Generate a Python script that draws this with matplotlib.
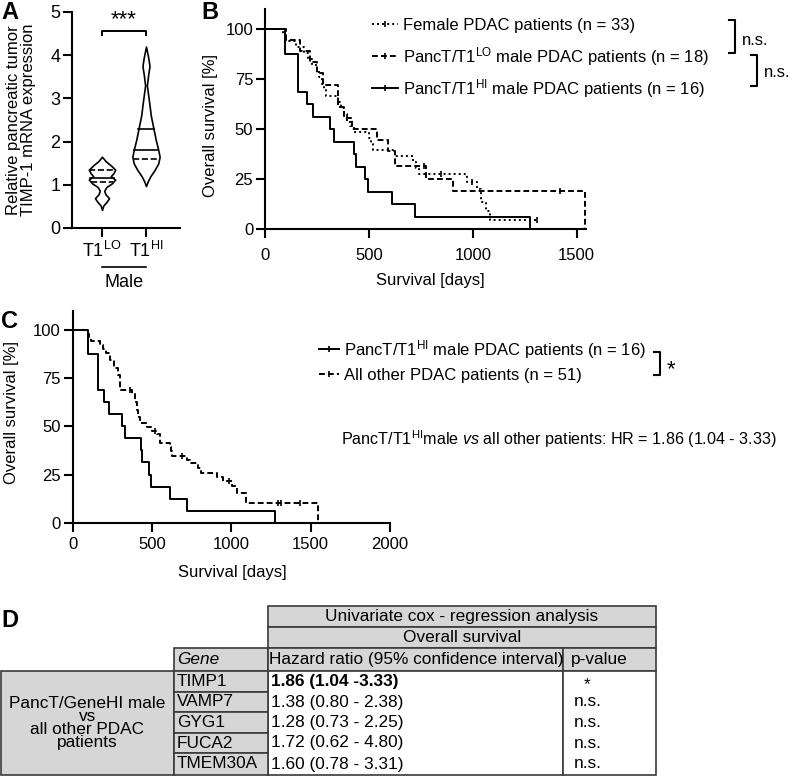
import numpy as np
import matplotlib.pyplot as plt
from matplotlib.patches import Rectangle

plt.rcParams['font.family'] = ['Liberation Sans', 'DejaVu Sans']
plt.rcParams['mathtext.fontset'] = 'custom'
plt.rcParams['mathtext.rm'] = 'Liberation Sans'
plt.rcParams['mathtext.it'] = 'Liberation Sans:italic'
plt.rcParams['mathtext.bf'] = 'Liberation Sans:bold'

# ---- A: violin outlines (expression value, half width)
lo_y = [0.42, 0.52, 0.60, 0.69, 0.78, 0.86, 0.95, 1.03, 1.12, 1.20, 1.27, 1.35, 1.45, 1.55, 1.65]
lo_w = [0.00, 0.03, 0.10, 0.16, 0.08, 0.05, 0.10, 0.22, 0.30, 0.20, 0.26, 0.30, 0.20, 0.08, 0.00]
hi_y = [0.97, 1.08, 1.20, 1.35, 1.50, 1.65, 1.80, 2.05, 2.30, 2.60, 3.00, 3.30, 3.55, 3.75, 3.95, 4.20]
hi_w = [0.00, 0.04, 0.10, 0.20, 0.28, 0.31, 0.28, 0.22, 0.17, 0.11, 0.06, 0.02, 0.05, 0.08, 0.05, 0.00]
lo_lines = [(1.35, '--'), (1.15, '-'), (1.07, '--')]
hi_lines = [(1.60, '--'), (1.80, '-'), (2.29, '-')]
groups = ['T1$^{\\mathrm{LO}}$', 'T1$^{\\mathrm{HI}}$']

# ---- B/C: Kaplan-Meier steps (days, survival %)
hi_t = [0, 96, 157, 200, 231, 312, 332, 428, 437, 481, 496, 611, 721, 1275]
hi_s = [100, 87.5, 68.75, 62.5, 56.25, 50, 43.75, 37.5, 31.25, 25, 18.75, 12.5, 6.25, 0]

lo_t = [0, 101, 168, 216, 252, 280, 351, 380, 417, 537, 592, 625, 774, 904, 1540]
lo_s = [100, 94.4, 88.9, 83.3, 77.8, 72.2, 61.1, 55.6, 50, 44.4, 38.9, 31.3, 25, 18.8, 0]
lo_cens = [395, 765, 1420]

fe_t = [0, 88, 100, 150, 190, 205, 225, 250, 262, 275, 285, 295, 352, 365, 380, 395, 410, 430,
        500, 510, 521, 625, 712, 726, 740, 971, 1018, 1041, 1065, 1082, 1308]
fe_s = [100, 97.0, 93.9, 90.9, 87.9, 84.8, 81.8, 78.8, 75.8, 72.7, 69.7, 66.7, 63.6, 60.6, 57.6, 54.5,
        51.5, 48.5, 45.5, 42.4, 39.4, 36.4, 33.3, 30.3, 27.3, 23.7, 20.2, 13.7, 9.1, 4.5, 4.5]
fe_cens = [849, 995, 1308]

ot_t = [0, 99, 105, 115, 173, 191, 213, 236, 262, 283, 296, 373, 394, 405, 413, 426, 468, 500, 530, 552,
        616, 622, 627, 721, 740, 790, 806, 911, 950, 1005, 1034, 1091, 1544]
ot_s = [100, 98.0, 96.1, 94.1, 92.2, 90.2, 88.2, 84.3, 80.4, 76.5, 68.6, 66.6, 62.6, 58.7, 54.7, 51.8,
        49.8, 47.8, 45.8, 41.3, 39.3, 37.3, 34.6, 32.6, 30.8, 28.2, 25.6, 23.6, 21.6, 19.0, 15.4, 10.4, 0]
ot_cens = [360, 520, 690, 985, 1293, 1313, 1432]

# ---- D: Cox regression table
genes = ['TIMP1', 'VAMP7', 'GYG1', 'FUCA2', 'TMEM30A']
hr_txt = ['1.86 (1.04 -3.33)', '1.38 (0.80 - 2.38)', '1.28 (0.73 - 2.25)',
          '1.72 (0.62 - 4.80)', '1.60 (0.78 - 3.31)']
p_txt = ['*', 'n.s.', 'n.s.', 'n.s.', 'n.s.']

W, H = 793, 778
fig = plt.figure(figsize=(W / 100, H / 100), dpi=100)


def rect(l, t, r, b):
    return [l / W, 1 - b / H, (r - l) / W, (b - t) / H]


def style(ax, fs=12, xpad=3):
    for s in ['top', 'right']:
        ax.spines[s].set_visible(False)
    for s in ['left', 'bottom']:
        ax.spines[s].set_linewidth(1.5)
    ax.tick_params(width=1.5, length=6.5, labelsize=fs)
    ax.tick_params(axis='y', pad=2)
    ax.tick_params(axis='x', pad=xpad)


def surv_at(t, s, tc):
    idx = np.searchsorted(t, tc, side='right') - 1
    return np.asarray(s)[idx]


KM = dict(color='k', lw=1.4, where='post', clip_on=False)
DASH = (0, (3, 1.6))
DOT = (0, (1, 1.6))

# ---------------- A
axA = fig.add_axes(rect(72, 12, 180, 228))
style(axA, fs=13)
for pos, yy, ww, lines in [(1, lo_y, lo_w, lo_lines), (2, hi_y, hi_w, hi_lines)]:
    yy = np.array(yy)
    ww = np.array(ww)
    axA.fill_betweenx(yy, pos - ww, pos + ww, facecolor='white', edgecolor='k', lw=1.2)
    for v, ls in lines:
        hw = np.interp(v, yy, ww)
        axA.plot([pos - hw, pos + hw], [v, v], color='k', lw=1.2, ls=ls)
axA.set_xlim(0.318, 2.773)
axA.set_ylim(0, 5)
axA.set_xticks([1, 2])
axA.set_xticklabels(groups)
axA.set_yticks(range(6))
axA.set_ylabel('Relative pancreatic tumor\nTIMP-1 mRNA expression', fontsize=12, linespacing=1.0)
axA.yaxis.set_label_coords(-0.33, 0.5)
axA.plot([1, 1, 2, 2], [4.47, 4.56, 4.56, 4.47], color='k', lw=1.4, clip_on=False)
axA.text(1.5, 4.58, '***', ha='center', va='bottom', fontsize=16)
axA.plot([1, 2], [-0.9, -0.9], color='k', lw=1.2, clip_on=False)
axA.text(1.5, -1.06, 'Male', ha='center', va='top', fontsize=13)

# ---------------- B
axB = fig.add_axes(rect(265, 9, 586, 229))
style(axB, xpad=7)
axB.step(fe_t, fe_s, ls=DOT, **KM)
axB.step(lo_t, lo_s, ls=DASH, **KM)
axB.step(hi_t, hi_s, ls='-', **KM)
axB.plot(fe_cens, surv_at(fe_t, fe_s, fe_cens), '|', color='k', ms=4, mew=1.2)
axB.plot(lo_cens, surv_at(lo_t, lo_s, lo_cens), '|', color='k', ms=4, mew=1.2)
axB.set_xlim(0, 1545)
axB.set_ylim(0, 110)
axB.set_xticks([0, 500, 1000, 1500])
axB.set_yticks([0, 25, 50, 75, 100])
axB.set_xlabel('Survival [days]', fontsize=12)
axB.set_ylabel('Overall survival [%]', fontsize=12)
axB.xaxis.set_label_coords(0.514, -0.2)
axB.yaxis.set_label_coords(-0.145, 0.47)

# ---------------- C
axC = fig.add_axes(rect(72.7, 310.7, 390, 522.7))
style(axC, xpad=3.5)
axC.step(ot_t, ot_s, ls=DASH, **KM)
axC.step(hi_t, hi_s, ls='-', **KM)
axC.plot(ot_cens, surv_at(ot_t, ot_s, ot_cens), '|', color='k', ms=4, mew=1.2)
axC.set_xlim(0, 2000)
axC.set_ylim(0, 110)
axC.set_xticks([0, 500, 1000, 1500, 2000])
axC.set_yticks([0, 25, 50, 75, 100])
axC.set_xlabel('Survival [days]', fontsize=12)
axC.set_ylabel('Overall survival [%]', fontsize=12)
axC.xaxis.set_label_coords(0.502, -0.2)
axC.yaxis.set_label_coords(-0.17, 0.52)

# ---------------- overlay (pixel coordinates) for keys, brackets, labels, table
ov = fig.add_axes([0, 0, 1, 1])
ov.set_xlim(0, W)
ov.set_ylim(H, 0)
ov.axis('off')

for x, y, s in [(1, 1, 'A'), (201, 1, 'B'), (1, 310, 'C'), (1, 609, 'D')]:
    ov.text(x, y, s, fontsize=17, fontweight='bold', va='top', ha='left')


def key(x0, x1, y, ls, label, fs=12):
    ov.plot([x0, x1], [y, y], color='k', lw=1.4, ls=ls)
    ov.plot([(x0 + x1) / 2], [y], '|', color='k', ms=4, mew=1.2)
    ov.text(x1 + 5, y + 6, label, fontsize=fs, va='baseline', ha='left')


key(372, 398, 24, DOT, 'Female PDAC patients (n = 33)')
key(372, 398, 56, DASH, 'PancT/T1$^{\\mathrm{LO}}$ male PDAC patients (n = 18)')
key(372, 398, 88, '-', 'PancT/T1$^{\\mathrm{HI}}$ male PDAC patients (n = 16)')


def bracket(x, y0, y1, label, fs=12, dy=0):
    ov.plot([x - 6, x, x, x - 6], [y0, y0, y1, y1], color='k', lw=1.5)
    ov.text(x + 7, (y0 + y1) / 2 + dy, label, fontsize=fs, va='center', ha='left')


bracket(735, 20, 53, 'n.s.', dy=4)
bracket(757, 55, 86, 'n.s.', dy=2)

key(319, 339, 349, '-', 'PancT/T1$^{\\mathrm{HI}}$ male PDAC patients (n = 16)')
key(319, 339, 374, DASH, 'All other PDAC patients (n = 51)')
bracket(660, 352, 375, '*', fs=16, dy=6)
ov.text(341, 445, 'PancT/T1$^{\\mathrm{HI}}$male $\\mathit{vs}$ all other patients: HR = 1.86 (1.04 - 3.33)',
        fontsize=11.6, va='baseline', ha='left')

# ---- table D
cols = [1, 174, 268, 563, 656]
rows = [606, 627, 648, 671, 692, 712, 733, 753, 775]
gray = '#d6d6d6'
edge = '#3a3a3a'


def cell(x0, y0, x1, y1, fc):
    ov.add_patch(Rectangle((x0, y0), x1 - x0, y1 - y0, facecolor=fc, edgecolor=edge, lw=1.2))


TFS = 12.4
cell(cols[2], rows[0], cols[4], rows[1], gray)
ov.text((cols[2] + cols[4]) / 2, (rows[0] + rows[1]) / 2, 'Univariate cox - regression analysis',
        fontsize=TFS, ha='center', va='center')
cell(cols[2], rows[1], cols[4], rows[2], gray)
ov.text((cols[2] + cols[4]) / 2, (rows[1] + rows[2]) / 2, 'Overall survival',
        fontsize=TFS, ha='center', va='center')
cell(cols[1], rows[2], cols[2], rows[3], gray)
ov.text(cols[1] + 3, (rows[2] + rows[3]) / 2, 'Gene', fontsize=TFS, ha='left', va='center', style='italic')
cell(cols[2], rows[2], cols[3], rows[3], gray)
ov.text(cols[2] + 1, (rows[2] + rows[3]) / 2, 'Hazard ratio (95% confidence interval)',
        fontsize=TFS, ha='left', va='center')
cell(cols[3], rows[2], cols[4], rows[3], gray)
ov.text(cols[3] + 8, (rows[2] + rows[3]) / 2, 'p-value', fontsize=TFS, ha='left', va='center')

cell(cols[0], rows[3], cols[1], rows[-1], gray)
ov.text((cols[0] + cols[1]) / 2, (rows[3] + rows[-1]) / 2,
        'PancT/GeneHI male\nvs\nall other PDAC\npatients', fontsize=TFS, ha='center', va='center',
        linespacing=0.82)
cell(cols[2], rows[3], cols[3], rows[-1], 'white')
cell(cols[3], rows[3], cols[4], rows[-1], 'white')
for i, g in enumerate(genes):
    y0, y1 = rows[3 + i], rows[4 + i]
    ym = (y0 + y1) / 2
    cell(cols[1], y0, cols[2], y1, gray)
    ov.text(cols[1] + 3, ym, g, fontsize=TFS, ha='left', va='center')
    ov.text(cols[2] + 3, ym, hr_txt[i], fontsize=TFS, ha='left', va='center',
            fontweight='bold' if p_txt[i] == '*' else 'normal')
    if p_txt[i] == '*':
        ov.text(587, ym + 3, p_txt[i], fontsize=TFS, ha='center', va='center')
    else:
        ov.text(cols[3] + 11, ym, p_txt[i], fontsize=TFS, ha='left', va='center')

fig.savefig('out.png', dpi=100)
